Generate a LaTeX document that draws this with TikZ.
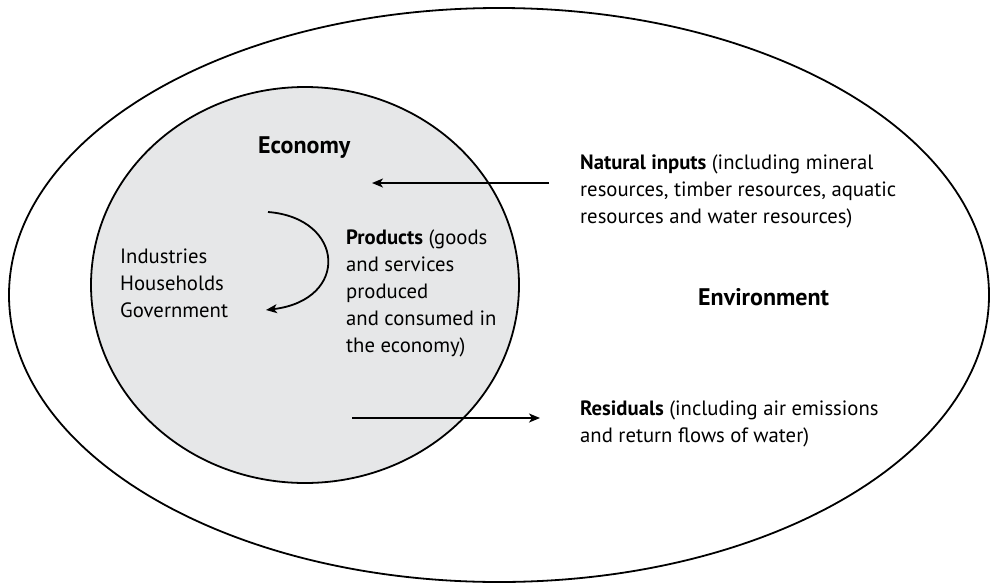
\documentclass[tikz,border=0pt]{standalone}
\usepackage{fontspec}
\setmainfont{PT Sans}
\usetikzlibrary{arrows.meta,positioning,shapes.geometric}

\begin{document}
\begin{tikzpicture}[x=1pt,y=-1pt,
        every node/.style={inner sep=0pt},
        txt/.style={font=\fontsize{20.7}{27}\selectfont, align=left, anchor=base west},
        bold txt/.style={font=\fontsize{24}{27}\selectfont\bfseries, anchor=base west},
        flow/.style={line width=1.8pt, -{Stealth[length=11pt,width=9pt,inset=3pt]}}]
        \definecolor{economy gray}{RGB}{230,231,232}
        \useasboundingbox (0,0) rectangle (990,584);

        % the two spheres
        \node[ellipse, draw, line width=1.8pt, minimum width=980pt, minimum height=574pt] (environment) at (499,295) {};
        \node[ellipse, draw, fill=economy gray, line width=1.8pt, minimum width=428pt, minimum height=396pt] (economy) at (305,285) {};

        % labels (anchored on the last line)
        \node[bold txt] (economy label) at (258,153) {Economy};
        \node[txt] (agents) at (120,317) {Industries\\Households\\Government};
        \node[txt] (products) at (346,352) {\textbf{Products} (goods\\and services\\produced\\and consumed in\\the economy)};
        \node[txt] (inputs) at (580,223) {\textbf{Natural inputs} (including mineral\\resources, timber resources, aquatic\\resources and water resources)};
        \node[bold txt] (environment label) at (698,305) {Environment};
        \node[txt] (residuals) at (580,442) {\textbf{Residuals} (including air emissions\\and return flows of water)};

        % flows
        \coordinate (inputs start) at (549,183);
        \coordinate (inputs end) at (372,183);
        \coordinate (residuals start) at (352,418);
        \coordinate (residuals end) at (540,418);
        \coordinate (cycle start) at (268,212);
        \coordinate (cycle end) at (266,310);
        \draw[flow] (inputs start) -- (inputs end);
        \draw[flow] (residuals start) -- (residuals end);
        \draw[flow] (cycle start) .. controls (345,218) and (350,300) .. (cycle end);
\end{tikzpicture}
\end{document}
